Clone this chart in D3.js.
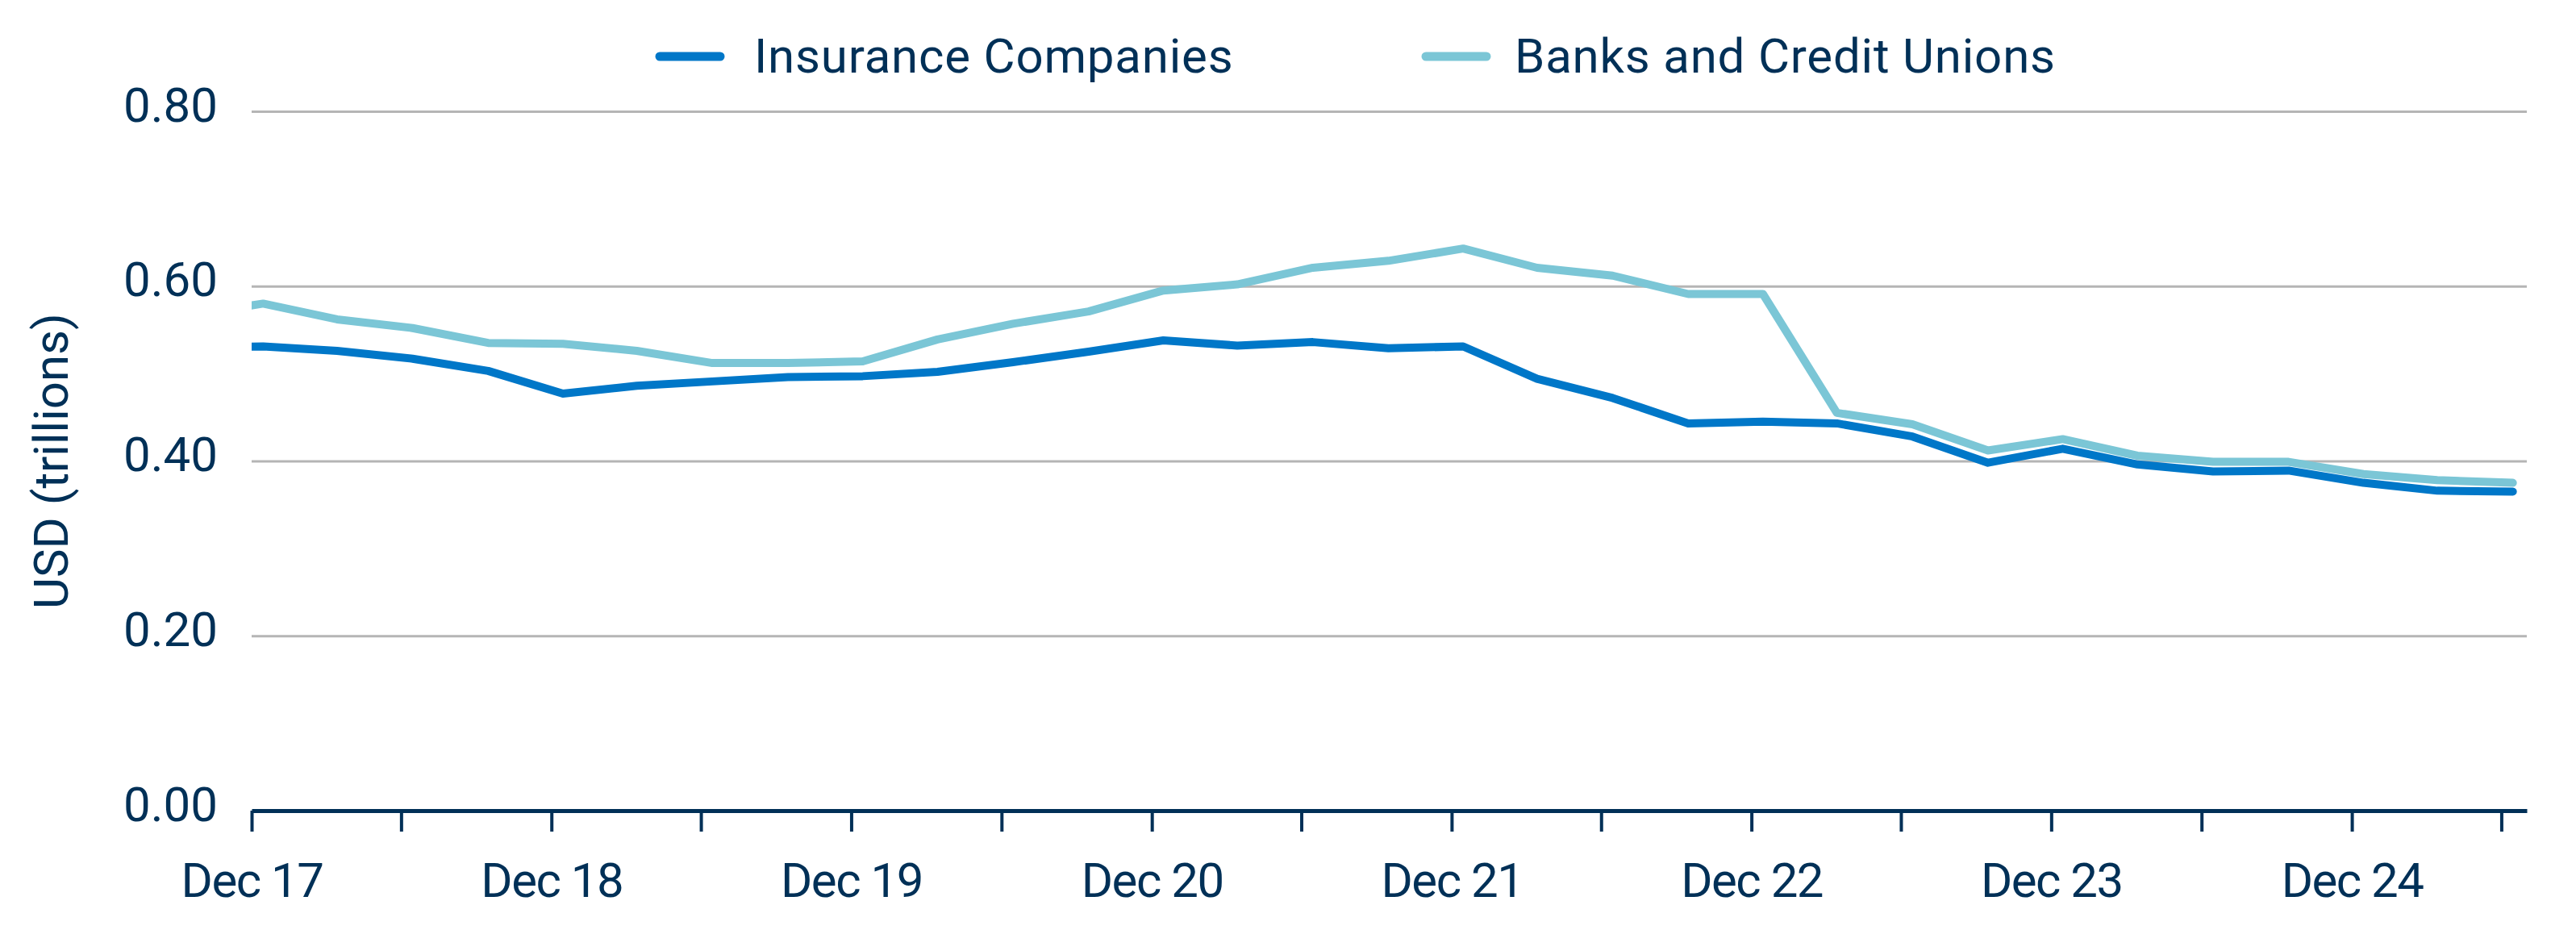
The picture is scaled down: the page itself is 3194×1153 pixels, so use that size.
<!DOCTYPE html>
<html>
<head>
<meta charset="utf-8">
<script src="https://cdn.jsdelivr.net/npm/d3@7"></script>
<style>
  body { margin: 0; background: #fff; }
  text { font-family: Roboto, "Noto Sans", sans-serif; fill: #003057; }
</style>
</head>
<body>
<svg id="chart" width="3194" height="1153"></svg>
<script>
// quarterly readings, Sep 17 sits before the axis start and gets clipped
var quarters = ["Sep 17","Dec 17","Mar 18","Jun 18","Sep 18","Dec 18","Mar 19","Jun 19","Sep 19",
	"Dec 19","Mar 20","Jun 20","Sep 20","Dec 20","Mar 21","Jun 21","Sep 21","Dec 21","Mar 22",
	"Jun 22","Sep 22","Dec 22","Mar 23","Jun 23","Sep 23","Dec 23","Mar 24","Jun 24","Sep 24",
	"Dec 24","Mar 25","Jun 25"];

var insurance = [0.529,0.531,0.526,0.517,0.503,0.477,0.486,0.491,0.496,0.497,0.502,0.513,0.525,
	0.538,0.532,0.536,0.529,0.531,0.494,0.472,0.443,0.445,0.443,0.428,0.398,0.414,0.396,0.388,
	0.389,0.375,0.366,0.365];

var banks = [0.567,0.580,0.562,0.552,0.535,0.534,0.526,0.512,0.512,0.514,0.539,0.557,0.571,
	0.595,0.602,0.621,0.629,0.643,0.621,0.612,0.591,0.591,0.455,0.442,0.412,0.425,0.406,0.399,
	0.399,0.385,0.378,0.375];

var seriesNames = ["Insurance Companies", "Banks and Credit Unions"];
var seriesColors = ["#0077c8", "#7bc6d6"];
var yTicks = [0, 0.2, 0.4, 0.6, 0.8];

var parseQ = d3.timeParse("%b %y");
var svg = d3.select("#chart");
var margin = {top: 138, left: 312},
	width = 3133 - margin.left,
	height = 1005 - margin.top,
	g = svg.append("g").attr("transform", "translate(" + margin.left + "," + margin.top + ")");

var axisStart = new Date(2017, 11, 1),
	axisEnd = new Date(2025, 6, 2);

var x = d3.scaleTime().domain([axisStart, axisEnd]).range([0, width]);
var y = d3.scaleLinear().domain([0, 0.8]).range([height, 0]);

// points plotted mid-month of each quarter label
var points = quarters.map(function(q, i){
	return {date: d3.timeDay.offset(parseQ(q), 14), ins: insurance[i], bank: banks[i]};
});

// gridlines + y labels
var yAxis = g.append("g")
	.call(d3.axisLeft(y).tickValues(yTicks).tickSize(-width).tickFormat(d3.format(".2f")));
yAxis.select(".domain").remove();
yAxis.selectAll(".tick line")
	.attr("stroke", "#b5b5b5")
	.attr("stroke-width", 3)
	.attr("display", function(d){ return d === 0 ? "none" : null; });
yAxis.selectAll(".tick text")
	.attr("x", -42)
	.attr("dy", 12)
	.style("font-size", "60px")
	.style("fill", "#003057");

// lines
svg.append("defs").append("clipPath").attr("id", "plotClip")
	.append("rect").attr("x", 0).attr("y", -50).attr("width", width).attr("height", height + 100);

var lineIns = d3.line().x(function(d){ return x(d.date); }).y(function(d){ return y(d.ins); });
var lineBank = d3.line().x(function(d){ return x(d.date); }).y(function(d){ return y(d.bank); });

var lines = g.append("g").attr("clip-path", "url(#plotClip)");
lines.append("path")
	.datum(points)
	.attr("fill", "none")
	.attr("stroke", seriesColors[1])
	.attr("stroke-width", 10)
	.attr("stroke-linejoin", "round")
	.attr("stroke-linecap", "round")
	.attr("d", lineBank);
lines.append("path")
	.datum(points)
	.attr("fill", "none")
	.attr("stroke", seriesColors[0])
	.attr("stroke-width", 10)
	.attr("stroke-linejoin", "round")
	.attr("stroke-linecap", "round")
	.attr("d", lineIns);

// x axis, tick every 6 months, label only Decembers
var tickDates = d3.timeMonth.range(axisStart, axisEnd, 6);
var fmt = d3.timeFormat("%b %y");
var xAxis = g.append("g")
	.attr("transform", "translate(0," + height + ")")
	.call(d3.axisBottom(x).tickValues(tickDates).tickSize(26).tickSizeOuter(0)
		.tickFormat(function(d){ return d.getMonth() === 11 ? fmt(d) : ""; }));
xAxis.select(".domain").attr("stroke", "#003057").attr("stroke-width", 5);
xAxis.selectAll(".tick line").attr("stroke", "#003057").attr("stroke-width", 4);
xAxis.selectAll(".tick text")
	.attr("y", 107)
	.attr("dy", 0)
	.style("font-size", "60px")
	.style("letter-spacing", "-1.5px")
	.style("fill", "#003057");

// y title
svg.append("text")
	.attr("transform", "translate(84," + (margin.top + height / 2) + ") rotate(-90)")
	.attr("text-anchor", "middle")
	.style("font-size", "60px")
	.text("USD (trillions)");

// legend
var legendPos = [{sx: 813, tx: 935}, {sx: 1763, tx: 1878}];
var legend = svg.append("g");
seriesNames.forEach(function(name, i){
	legend.append("line")
		.attr("x1", legendPos[i].sx + 5).attr("x2", legendPos[i].sx + 80)
		.attr("y1", 70).attr("y2", 70)
		.attr("stroke", seriesColors[i])
		.attr("stroke-width", 11)
		.attr("stroke-linecap", "round");
	legend.append("text")
		.attr("x", legendPos[i].tx)
		.attr("y", 90)
		.style("font-size", "60px")
		.style("letter-spacing", "0.8px")
		.text(name);
});
</script>
</body>
</html>
